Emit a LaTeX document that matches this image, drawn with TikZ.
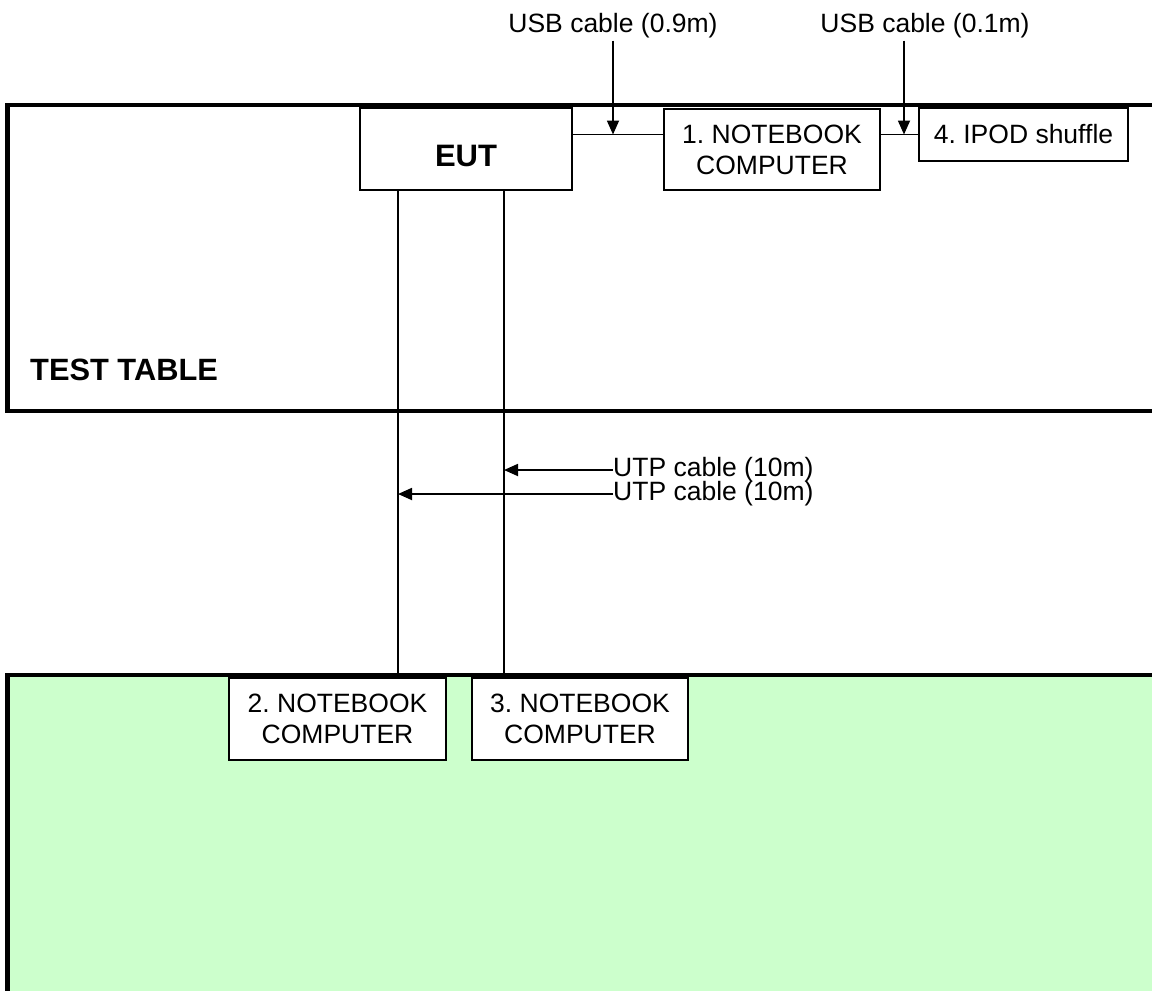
\documentclass[tikz,border=0pt]{standalone}
\usepackage{fontspec}
\setmainfont{Liberation Sans}
\usetikzlibrary{arrows.meta}
\definecolor{tablegreen}{HTML}{CCFFCC}
\frenchspacing
\begin{document}
\begin{tikzpicture}[x=1pt,y=-1pt,
  devbox/.style={draw,line width=1.8pt,fill=white,inner sep=0pt,align=center,
    font=\fontsize{26.5}{31}\selectfont},
  lbl/.style={inner sep=2pt,font=\fontsize{26.5}{31}\selectfont},
  cable/.style={line width=1.8pt},
  arr/.style={line width=1.8pt,-{Triangle[length=14pt,width=12pt]}},
  thick border/.style={line width=4.5pt}]
\useasboundingbox (0,0) rectangle (1152,991);
\clip (0,0) rectangle (1152,991);
% green area
\fill[tablegreen] (7.5,675) rectangle (1170,1000);
\draw[thick border] (7.5,1000) -- (7.5,675) -- (1170,675);
% test table
\draw[thick border] (1170,105) -- (7.5,105) -- (7.5,411) -- (1170,411);
\node[anchor=base west,inner sep=0pt,font=\bfseries\fontsize{30.8}{36}\selectfont] (tt) at (30,380) {TEST TABLE};
% devices
\node[devbox,minimum width=212pt,minimum height=82pt] (EUT) at (466,149) {};
\node[font=\bfseries\fontsize{31}{36}\selectfont,inner sep=0pt] (EUTt) at (466,156) {EUT};
\node[devbox,minimum width=216pt,minimum height=81pt] (NB1) at (772,149.5) {1. NOTEBOOK\\COMPUTER};
\node[devbox,minimum width=209pt,minimum height=53pt] (IPOD) at (1023.5,134.5) {4. IPOD shuffle};
\node[devbox,minimum width=217pt,minimum height=82pt] (NB2) at (337.5,719) {2. NOTEBOOK\\COMPUTER};
\node[devbox,minimum width=216pt,minimum height=82pt] (NB3) at (580,719) {3. NOTEBOOK\\COMPUTER};
% USB cables
\draw[cable] (EUT.east |- IPOD.west) -- (NB1.west |- IPOD.west);
\draw[cable] (NB1.east |- IPOD.west) -- (IPOD.west);
\node[lbl] (usb1) at (613,26) {USB cable (0.9m)};
\node[lbl] (usb2) at (925,26) {USB cable (0.1m)};
\draw[arr] (usb1.south) -- (usb1.south |- IPOD.west);
\draw[arr] ([xshift=-21pt]usb2.south) -- ([xshift=-21pt]usb2.south |- IPOD.west);
% UTP cables
\coordinate (v1t) at (398,190);
\coordinate (v1b) at (398,675);
\coordinate (v2t) at (504,190);
\coordinate (v2b) at (504,675);
\draw[cable] (v1t) -- (v1b);
\draw[cable] (v2t) -- (v2b);
\node[lbl,anchor=west,inner sep=0pt] (utp1) at (613,470) {UTP cable (10m)};
\node[lbl,anchor=west,inner sep=0pt] (utp2) at (613,494) {UTP cable (10m)};
\draw[arr] (utp1.west) -- (utp1.west -| v2t);
\draw[arr] (utp2.west) -- (utp2.west -| v1t);
\end{tikzpicture}
\end{document}
